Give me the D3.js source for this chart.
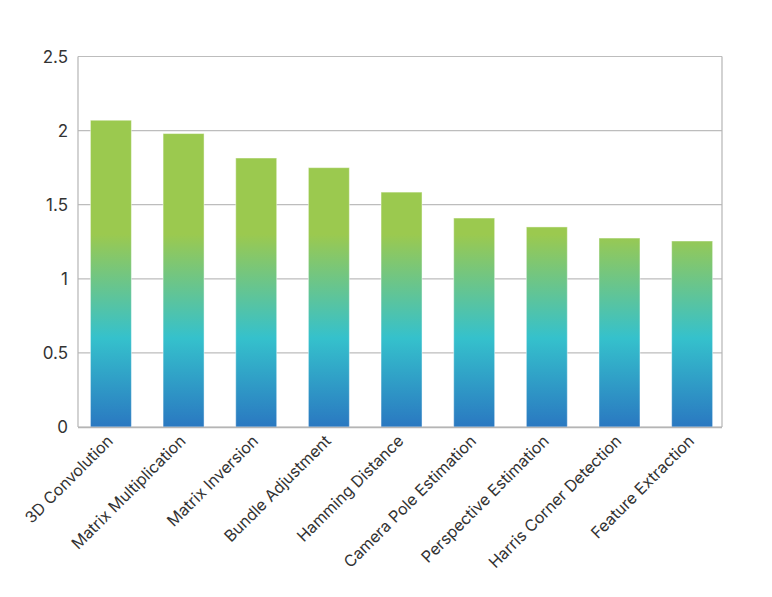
<!DOCTYPE html>
<html>
<head>
<meta charset="utf-8">
<script src="https://cdn.jsdelivr.net/npm/d3@7"></script>
<style>
  html, body { margin: 0; padding: 0; background: #fff; }
  svg text { font-family: Inter, "Noto Sans", sans-serif; fill: #333; }
</style>
</head>
<body>
<svg id="chart" width="772" height="597"></svg>
<script>
const categories = ["3D Convolution", "Matrix Multiplication", "Matrix Inversion", "Bundle Adjustment",
  "Hamming Distance", "Camera Pole Estimation", "Perspective Estimation", "Harris Corner Detection", "Feature Extraction"];
const values = [2.07, 1.98, 1.815, 1.75, 1.585, 1.41, 1.35, 1.275, 1.255];
const yTicks = [0, 0.5, 1, 1.5, 2, 2.5];
const yTickLabels = ["0", "0.5", "1", "1.5", "2", "2.5"];
const gradientStops = [
  { value: 0, color: "#2a78c1" },
  { value: 0.6, color: "#35c1cc" },
  { value: 1.3, color: "#9bc94f" }
];

const svg = d3.select("#chart");
const pLeft = 78, pRight = 722, pTop = 56.5, pBottom = 427;

const x = d3.scaleBand().domain(categories).range([pLeft, pRight])
  .paddingInner(0.436).paddingOuter(0.15).align(0.57);
const y = d3.scaleLinear().domain([0, 2.5]).range([pBottom, pTop]);

// gradient in user space so colours are tied to value
const defs = svg.append("defs");
const grad = defs.append("linearGradient").attr("id", "barGrad")
  .attr("gradientUnits", "userSpaceOnUse")
  .attr("x1", 0).attr("x2", 0).attr("y1", y(0)).attr("y2", y(1.3));
grad.selectAll("stop").data(gradientStops).join("stop")
  .attr("offset", d => d.value / 1.3)
  .attr("stop-color", d => d.color);

// gridlines
svg.append("g").selectAll("line").data(yTicks).join("line")
  .attr("x1", pLeft).attr("x2", pRight)
  .attr("y1", d => y(d)).attr("y2", d => y(d))
  .attr("stroke", "#bdbdbd").attr("stroke-width", 1.2);

// right border and left axis
svg.append("line").attr("x1", pRight).attr("x2", pRight).attr("y1", y(2.5)).attr("y2", y(0))
  .attr("stroke", "#b5b5b5").attr("stroke-width", 1.2);
svg.append("line").attr("x1", pLeft).attr("x2", pLeft).attr("y1", y(2.5)).attr("y2", y(0))
  .attr("stroke", "#b5b5b5").attr("stroke-width", 1.2);

// bars
svg.append("g").selectAll("rect").data(values).join("rect")
  .attr("x", (d, i) => x(categories[i]))
  .attr("width", x.bandwidth())
  .attr("y", d => y(d))
  .attr("height", d => y(0) - y(d))
  .attr("fill", "url(#barGrad)")
  .attr("stroke", "rgba(255,255,255,0.45)")
  .attr("stroke-width", 1);

// bottom axis line
svg.append("line").attr("x1", pLeft).attr("x2", pRight).attr("y1", y(0) + 0.5).attr("y2", y(0) + 0.5)
  .attr("stroke", "#b5b5b5").attr("stroke-width", 1.5);

// y tick labels
svg.append("g").selectAll("text").data(yTicks).join("text")
  .attr("x", pLeft - 10)
  .attr("y", d => y(d))
  .attr("dy", "0.36em")
  .attr("text-anchor", "end")
  .attr("font-size", 17)
  .text((d, i) => yTickLabels[i]);

// x labels
svg.append("g").selectAll("text").data(categories).join("text")
  .attr("text-anchor", "end")
  .attr("font-size", 16)
  .attr("transform", d => `translate(${x(d) + x.bandwidth() / 2 + 3},${y(0) + 15}) rotate(-45)`)
  .text(d => d);
</script>
</body>
</html>
